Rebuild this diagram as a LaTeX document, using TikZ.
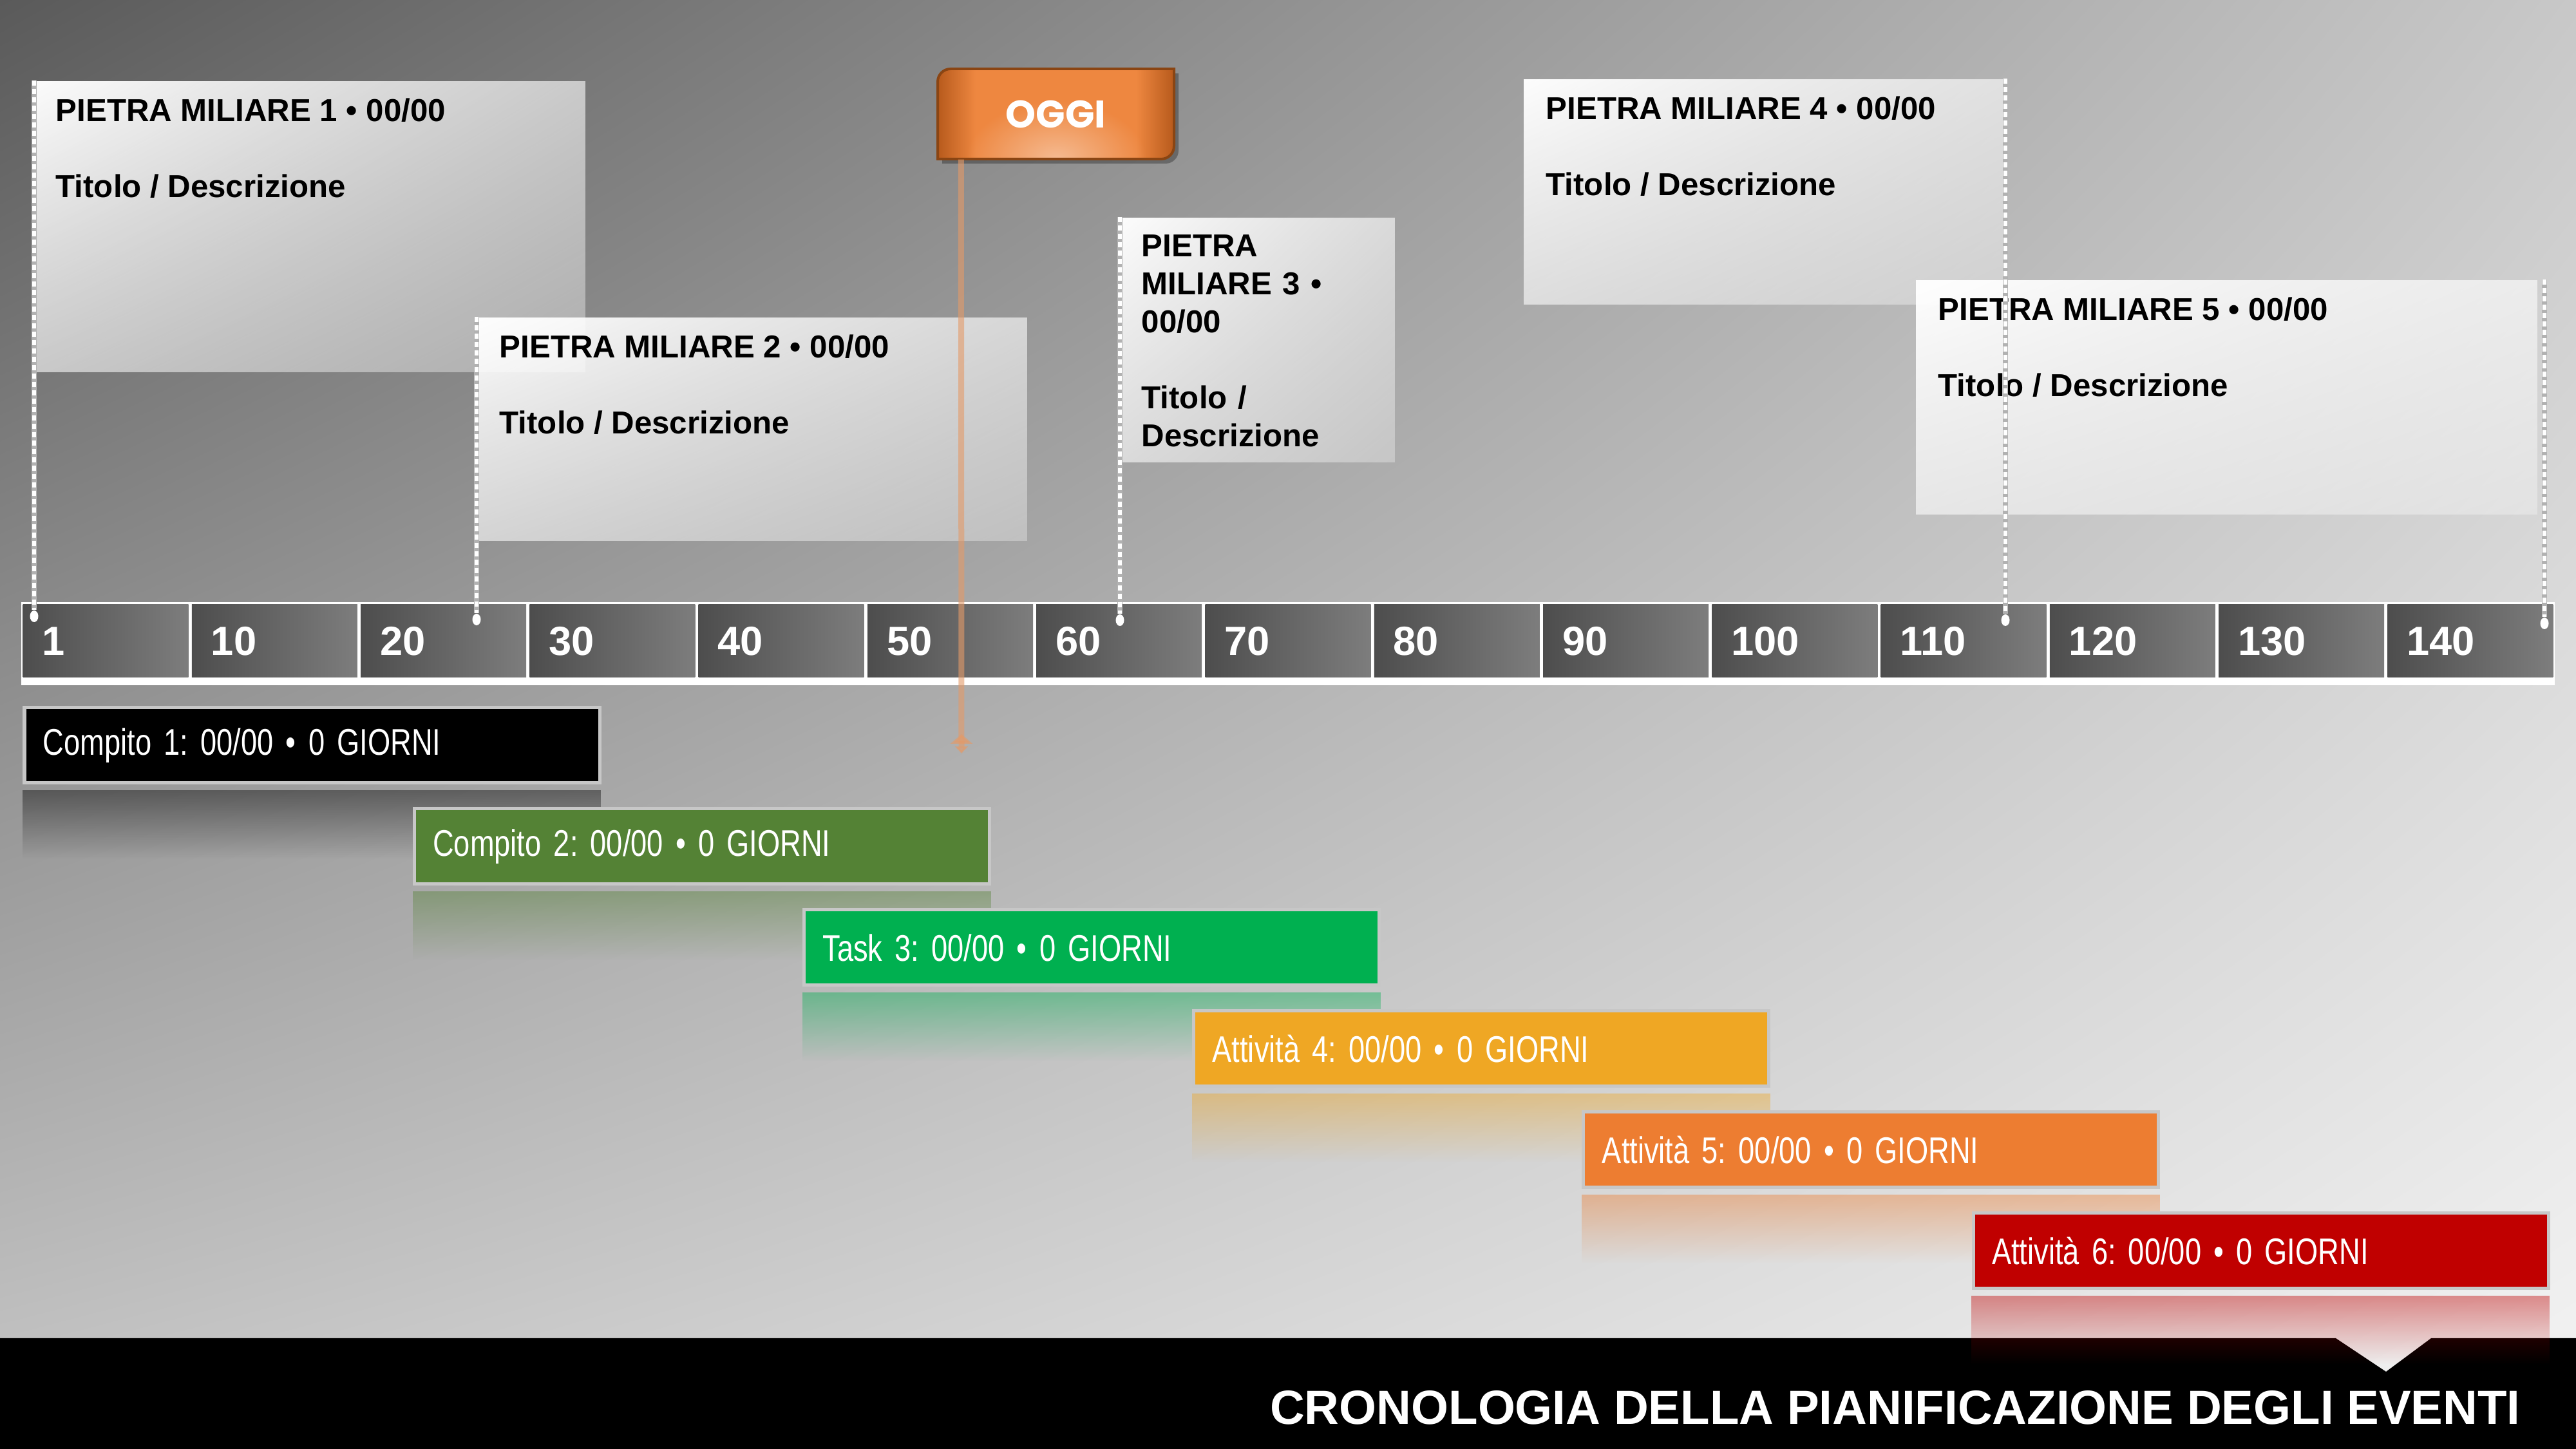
\documentclass[tikz,border=0pt]{standalone}
\usepackage{fontspec}
\setmainfont{Liberation Sans}
\newfontfamily\narrowfont{Liberation Sans}[FakeStretch=0.785]
\newfontfamily\oggifont{Poppins}
\usetikzlibrary{arrows.meta,fadings,shadings,shapes.geometric}
\frenchspacing
\hyphenpenalty=10000
\exhyphenpenalty=10000
\definecolor{bgdark}{HTML}{5A5A5A}
\definecolor{bgtopright}{HTML}{C8C8C8}
\definecolor{bglowleft}{HTML}{C8C8C8}
\definecolor{bglight}{HTML}{F4F4F4}
\definecolor{cellleft}{HTML}{4D4D4D}
\definecolor{cellright}{HTML}{7D7D7D}
\definecolor{todaytan}{HTML}{E49A68}
\definecolor{oggiedge}{HTML}{B75A1C}
\definecolor{oggimid}{HTML}{EE8740}
\definecolor{oggihigh}{HTML}{F7C4A0}
\definecolor{oggiborder}{HTML}{8A4513}
\definecolor{tgreendark}{HTML}{548235}
\definecolor{tgreen}{HTML}{00B050}
\definecolor{tgold}{HTML}{EFA724}
\definecolor{torange}{HTML}{ED7D31}
\definecolor{tred}{HTML}{C00000}
\pgfdeclarehorizontalshading{oggishade}{100bp}{color(0bp)=(oggiedge); color(25bp)=(oggiedge); color(33bp)=(oggimid); color(67bp)=(oggimid); color(75bp)=(oggiedge); color(100bp)=(oggiedge)}
\tikzfading[name=mfade, upper left=transparent!5, upper right=transparent!42, lower left=transparent!42, lower right=transparent!72]
\tikzfading[name=reflfade, top color=transparent!58, middle color=transparent!78, bottom color=transparent!100]
\tikzfading[name=glowfade, inner color=transparent!15, outer color=transparent!100]
\begin{document}
\begin{tikzpicture}[
	mbox/.style={fill=white, path fading=mfade, inner sep=0pt, anchor=north west},
	mtext/.style={anchor=north west, inner xsep=0.35cm, inner ysep=0.27cm, align=left, font=\bfseries\fontsize{14}{16.8}\selectfont},
	mline/.style={draw=white, line width=0.055cm, dash pattern=on 0.08cm off 0.05cm, preaction={draw=black!30, line width=0.085cm}},
	mdot/.style={ellipse, fill=white, inner sep=0pt, minimum width=0.13cm, minimum height=0.18cm},
	cell/.style={minimum width=2.57cm, minimum height=1.13cm, inner xsep=0.3cm, text width=1.97cm, align=left, left color=cellleft, right color=cellright, text=white, font=\bfseries\fontsize{18}{20}\selectfont},
	tbar/.style={anchor=north west, minimum width=8.93cm, minimum height=1.17cm, draw=black!22, line width=0.05cm, inner xsep=0.29cm, text width=8.35cm, align=left, text=white, font=\narrowfont\fontsize{16.4}{19}\selectfont},
	refl/.style={path fading=reflfade},
	todayline/.style={draw=todaytan, opacity=0.6, line width=0.09cm, -{Triangle[reversed, width=0.34cm, length=0.15cm, sep=0.04cm] Triangle[width=0.2cm, length=0.11cm]}}
	]
	\useasboundingbox (0,0) rectangle (40,22.5);
	\shade[upper left=bgdark, upper right=bgtopright, lower left=bglowleft, lower right=bglight] (0,0) rectangle (40,22.5);
	\fill[black] (0,0) -- (40,0) -- (40,1.72) -- (37.75,1.72) -- (37.05,1.20) -- (36.27,1.72) -- (0,1.72) -- cycle;
	\node[anchor=base east, text=white, font=\bfseries\fontsize{21.2}{24}\selectfont] (FT) at (39.26,0.38) {CRONOLOGIA DELLA PIANIFICAZIONE DEGLI EVENTI};
	
	
	\node[mbox, minimum width=8.57cm, minimum height=4.52cm] (MA) at (0.51,21.25) {};
	\node[mtext] (NA) at (MA.north west) {PIETRA MILIARE 1 • 00/00\\[16.8pt]Titolo / Descrizione};
	\node[mbox, minimum width=8.54cm, minimum height=3.47cm] (MB) at (7.40,17.58) {};
	\node[mtext] (NB) at (MB.north west) {PIETRA MILIARE 2 • 00/00\\[16.8pt]Titolo / Descrizione};
	\node[mbox, minimum width=4.28cm, minimum height=3.80cm] (MC) at (17.37,19.13) {};
	\node[mtext, text width=3.6cm] (NC) at (MC.north west) {PIETRA MILIARE 3 • 00/00\\[16.8pt]Titolo / Descrizione};
	\node[mbox, minimum width=7.50cm, minimum height=3.50cm] (MD) at (23.65,21.28) {};
	\node[mtext] (ND) at (MD.north west) {PIETRA MILIARE 4 • 00/00\\[16.8pt]Titolo / Descrizione};
	\node[mbox, minimum width=9.66cm, minimum height=3.64cm] (ME) at (29.74,18.16) {};
	\node[mtext] (NE) at (ME.north west) {PIETRA MILIARE 5 • 00/00\\[16.8pt]Titolo / Descrizione};
	
	
	\fill[white] (0.33,11.86) rectangle (39.67,13.15);
	\node[cell] (CA) at (1.641,12.545) {1};
	\node[cell] (CB) at (4.264,12.545) {10};
	\node[cell] (CC) at (6.887,12.545) {20};
	\node[cell] (CD) at (9.509,12.545) {30};
	\node[cell] (CE) at (12.132,12.545) {40};
	\node[cell] (CF) at (14.755,12.545) {50};
	\node[cell] (CG) at (17.377,12.545) {60};
	\node[cell] (CH) at (20.000,12.545) {70};
	\node[cell] (CI) at (22.623,12.545) {80};
	\node[cell] (CJ) at (25.245,12.545) {90};
	\node[cell] (CK) at (27.868,12.545) {100};
	\node[cell] (CL) at (30.491,12.545) {110};
	\node[cell] (CM) at (33.113,12.545) {120};
	\node[cell] (CN) at (35.736,12.545) {130};
	\node[cell] (CO) at (38.359,12.545) {140};
	
	
	\node[mdot] (DA) at (0.53,12.93) {};
	\node[mdot] (DB) at (7.40,12.88) {};
	\node[mdot] (DC) at (17.39,12.87) {};
	\node[mdot] (DD) at (31.14,12.87) {};
	\node[mdot] (DE) at (39.51,12.82) {};
	
	\draw[mline] (DA |- MA.north) -- (DA);
	\draw[mline] (DB |- MB.north) -- (DB);
	\draw[mline] (DC |- MC.north) -- (DC);
	\draw[mline] (DD |- MD.north) -- (DD);
	\draw[mline] (DE |- ME.north) -- (DE);
	
	
	\node[tbar, fill=black] (BA) at (0.355,11.535) {Compito 1: 00/00 • 0 GIORNI};
	\fill[black, refl] ([yshift=-0.09cm]BA.south west) rectangle ([yshift=-1.15cm]BA.south east);
	\node[tbar, fill=tgreendark] (BB) at (6.407,9.965) {Compito 2: 00/00 • 0 GIORNI};
	\fill[tgreendark, refl] ([yshift=-0.09cm]BB.south west) rectangle ([yshift=-1.15cm]BB.south east);
	\node[tbar, fill=tgreen] (BC) at (12.459,8.395) {Task 3: 00/00 • 0 GIORNI};
	\fill[tgreen, refl] ([yshift=-0.09cm]BC.south west) rectangle ([yshift=-1.15cm]BC.south east);
	\node[tbar, fill=tgold] (BD) at (18.511,6.825) {Attività 4: 00/00 • 0 GIORNI};
	\fill[tgold, refl] ([yshift=-0.09cm]BD.south west) rectangle ([yshift=-1.15cm]BD.south east);
	\node[tbar, fill=torange] (BE) at (24.563,5.255) {Attività 5: 00/00 • 0 GIORNI};
	\fill[torange, refl] ([yshift=-0.09cm]BE.south west) rectangle ([yshift=-1.15cm]BE.south east);
	\node[tbar, fill=tred] (BF) at (30.615,3.685) {Attività 6: 00/00 • 0 GIORNI};
	\fill[tred, refl] ([yshift=-0.09cm]BF.south west) rectangle ([yshift=-1.15cm]BF.south east);
	
	
	\fill[black, opacity=0.3] (14.63,19.96) -- (14.63,21.16) arc[start angle=180, end angle=90, radius=0.2] -- (18.30,21.36) -- (18.30,20.16) arc[start angle=0, end angle=-90, radius=0.2] -- cycle;
	\shade[shading=oggishade] (14.56,20.03) -- (14.56,21.23) arc[start angle=180, end angle=90, radius=0.2] -- (18.23,21.43) -- (18.23,20.23) arc[start angle=0, end angle=-90, radius=0.2] -- cycle;
	\begin{scope}
		\clip (14.56,20.03) -- (14.56,21.23) arc[start angle=180, end angle=90, radius=0.2] -- (18.23,21.43) -- (18.23,20.23) arc[start angle=0, end angle=-90, radius=0.2] -- cycle;
		\fill[oggihigh, path fading=glowfade] (16.4,20.03) ellipse (1.4cm and 0.9cm);
	\end{scope}
	\draw[oggiborder, line width=0.04cm] (14.56,20.03) -- (14.56,21.23) arc[start angle=180, end angle=90, radius=0.2] -- (18.23,21.43) -- (18.23,20.23) arc[start angle=0, end angle=-90, radius=0.2] -- cycle;
	\node[text=white, font=\oggifont\bfseries\fontsize{17}{20}\selectfont, minimum width=3.67cm, minimum height=1.4cm] (OG) at (16.395,20.73) {OGGI};
	\coordinate (OE) at (14.93,10.80);
	\draw[todayline] ([xshift=0.37cm]OG.south west) -- (OE);
\end{tikzpicture}
\end{document}
